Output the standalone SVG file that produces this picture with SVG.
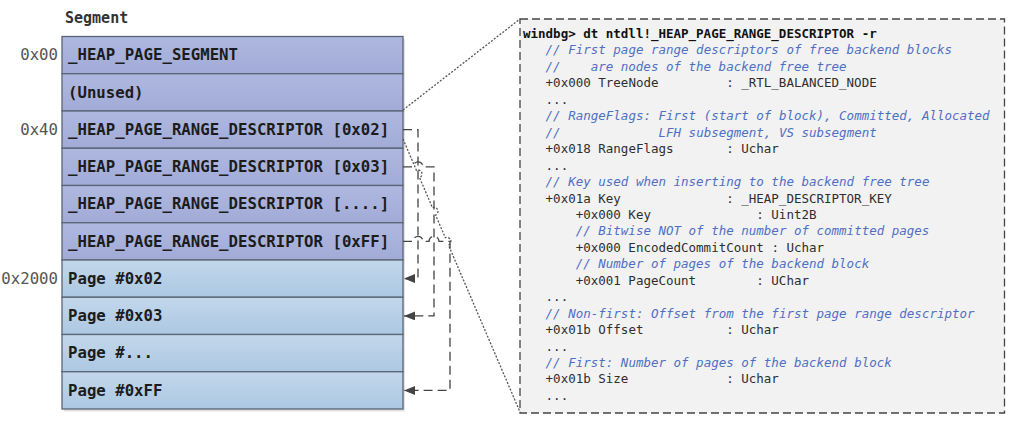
<svg xmlns="http://www.w3.org/2000/svg" width="1013" height="421" viewBox="0 0 1013 421">
<style>
.row{stroke:#5a6575;stroke-width:1.3}
.desc{fill:url(#gp)}
.page{fill:url(#gb)}
.rt{font-family:"DejaVu Sans Mono","Liberation Mono",monospace;font-size:15.7px;font-weight:bold;fill:#1c1c1c}
.lbl{font-family:"DejaVu Sans Mono","Liberation Mono",monospace;font-size:15.7px;fill:#555;text-anchor:end}
.code{font-family:"DejaVu Sans Mono","Liberation Mono",monospace;font-size:12.5px;fill:#2e2e2e}
.cm{fill:#4f6fc4;font-style:italic}
.conn{fill:none;stroke:#444;stroke-width:1.3;stroke-dasharray:9 5}
.dot{fill:none;stroke:#555;stroke-width:1.3;stroke-dasharray:2 1.6}
</style>
<defs>
<linearGradient id="gp" x1="0" y1="0" x2="0" y2="1"><stop offset="0" stop-color="#aeb8df"/><stop offset="1" stop-color="#a1abd7"/></linearGradient>
<linearGradient id="gb" x1="0" y1="0" x2="0" y2="1"><stop offset="0" stop-color="#c3d7eb"/><stop offset="1" stop-color="#acc8e2"/></linearGradient>
<marker id="arr" markerUnits="userSpaceOnUse" markerWidth="13" markerHeight="10" refX="11" refY="4.5" orient="auto"><path d="M0,0 L11,4.5 L0,9 z" fill="#444"/></marker>
</defs>
<rect x="64" y="39" width="341" height="372.5" fill="#cfcfcf" opacity="0.6"/>
<text x="65" y="23" style="font-family:'DejaVu Sans Mono','Liberation Mono',monospace;font-size:15px;font-weight:bold;fill:#333">Segment</text>
<g id="row0"><rect class="row desc" x="62" y="36.5" width="341" height="37.25"/><text class="rt" x="68" y="60.4">_HEAP_PAGE_SEGMENT</text><text class="lbl" x="58" y="60.4">0x00</text></g>
<g id="row1"><rect class="row desc" x="62" y="73.75" width="341" height="37.25"/><text class="rt" x="68" y="97.6">(Unused)</text></g>
<g id="row2"><rect class="row desc" x="62" y="111" width="341" height="37.25"/><text class="rt" x="68" y="134.9">_HEAP_PAGE_RANGE_DESCRIPTOR [0x02]</text><text class="lbl" x="58" y="134.9">0x40</text></g>
<g id="row3"><rect class="row desc" x="62" y="148.25" width="341" height="37.25"/><text class="rt" x="68" y="172.1">_HEAP_PAGE_RANGE_DESCRIPTOR [0x03]</text></g>
<g id="row4"><rect class="row desc" x="62" y="185.5" width="341" height="37.25"/><text class="rt" x="68" y="209.4">_HEAP_PAGE_RANGE_DESCRIPTOR [....]</text></g>
<g id="row5"><rect class="row desc" x="62" y="222.75" width="341" height="37.25"/><text class="rt" x="68" y="246.6">_HEAP_PAGE_RANGE_DESCRIPTOR [0xFF]</text></g>
<g id="row6"><rect class="row page" x="62" y="260" width="341" height="37.25"/><text class="rt" x="68" y="283.9">Page #0x02</text><text class="lbl" x="58" y="283.9">0x2000</text></g>
<g id="row7"><rect class="row page" x="62" y="297.25" width="341" height="37.25"/><text class="rt" x="68" y="321.1">Page #0x03</text></g>
<g id="row8"><rect class="row page" x="62" y="334.5" width="341" height="37.25"/><text class="rt" x="68" y="358.4">Page #...</text></g>
<g id="row9"><rect class="row page" x="62" y="371.75" width="341" height="37.25"/><text class="rt" x="68" y="395.6">Page #0xFF</text></g>
<g id="codebox">
<rect x="520" y="19" width="484.5" height="394" fill="#f2f2f2" stroke="#444" stroke-width="1.3" stroke-dasharray="8 4"/>
<g class="code">
<text x="523" y="38" style="font-weight:bold;fill:#111">windbg&gt; dt ntdll!_HEAP_PAGE_RANGE_DESCRIPTOR -r</text>
<text class="cm" x="545.6" y="54.45">// First page range descriptors of free backend blocks</text>
<text class="cm" x="545.6" y="70.9">//<tspan x="590.7">are nodes of the backend free tree</tspan></text>
<text x="545.6" y="87.35">+0x000 TreeNode<tspan x="726.2">: _RTL_BALANCED_NODE</tspan></text>
<text x="545.6" y="103.8">...</text>
<text class="cm" x="545.6" y="120.25">// RangeFlags: First (start of block), Committed, Allocated</text>
<text class="cm" x="545.6" y="136.7">//<tspan x="658.5">LFH subsegment, VS subsegment</tspan></text>
<text x="545.6" y="153.15">+0x018 RangeFlags<tspan x="726.2">: Uchar</tspan></text>
<text x="545.6" y="169.6">...</text>
<text class="cm" x="545.6" y="186.05">// Key used when inserting to the backend free tree</text>
<text x="545.6" y="202.5">+0x01a Key<tspan x="726.2">: _HEAP_DESCRIPTOR_KEY</tspan></text>
<text x="575.7" y="218.95">+0x000 Key<tspan x="756.3">: Uint2B</tspan></text>
<text class="cm" x="575.7" y="235.4">// Bitwise NOT of the number of committed pages</text>
<text x="575.7" y="251.85">+0x000 EncodedCommitCount<tspan x="771.4">: Uchar</tspan></text>
<text class="cm" x="575.7" y="268.3">// Number of pages of the backend block</text>
<text x="575.7" y="284.75">+0x001 PageCount<tspan x="756.3">: UChar</tspan></text>
<text x="545.6" y="301.2">...</text>
<text class="cm" x="545.6" y="317.65">// Non-first: Offset from the first page range descriptor</text>
<text x="545.6" y="334.1">+0x01b Offset<tspan x="726.2">: Uchar</tspan></text>
<text x="545.6" y="350.55">...</text>
<text class="cm" x="545.6" y="367">// First: Number of pages of the backend block</text>
<text x="545.6" y="383.45">+0x01b Size<tspan x="726.2">: Uchar</tspan></text>
<text x="545.6" y="399.9">...</text>
</g>
</g>
<g id="connectors">
<path class="dot" d="M403,110 L520,19"/>
<path class="dot" d="M403,139 L416.42,170.32 A4,4 0 0 1 419.58,177.68 L432.42,207.65 A4,4 0 0 1 435.58,215.01 L445.31,237.72 A4,4 0 0 1 448.47,245.08 L520,412"/>
<path class="conn" d="M403,129.6 H418 V278.6 H404" marker-end="url(#arr)"/>
<path class="conn" d="M403,166.9 H413 A5,5 0 0 1 423,166.9 H434 V315.9 H404" marker-end="url(#arr)"/>
<path class="conn" d="M403,241.4 H413 A5,5 0 0 1 423,241.4 H429 A5,5 0 0 1 439,241.4 H450 V390.4 H404" marker-end="url(#arr)"/>
</g>
</svg>
